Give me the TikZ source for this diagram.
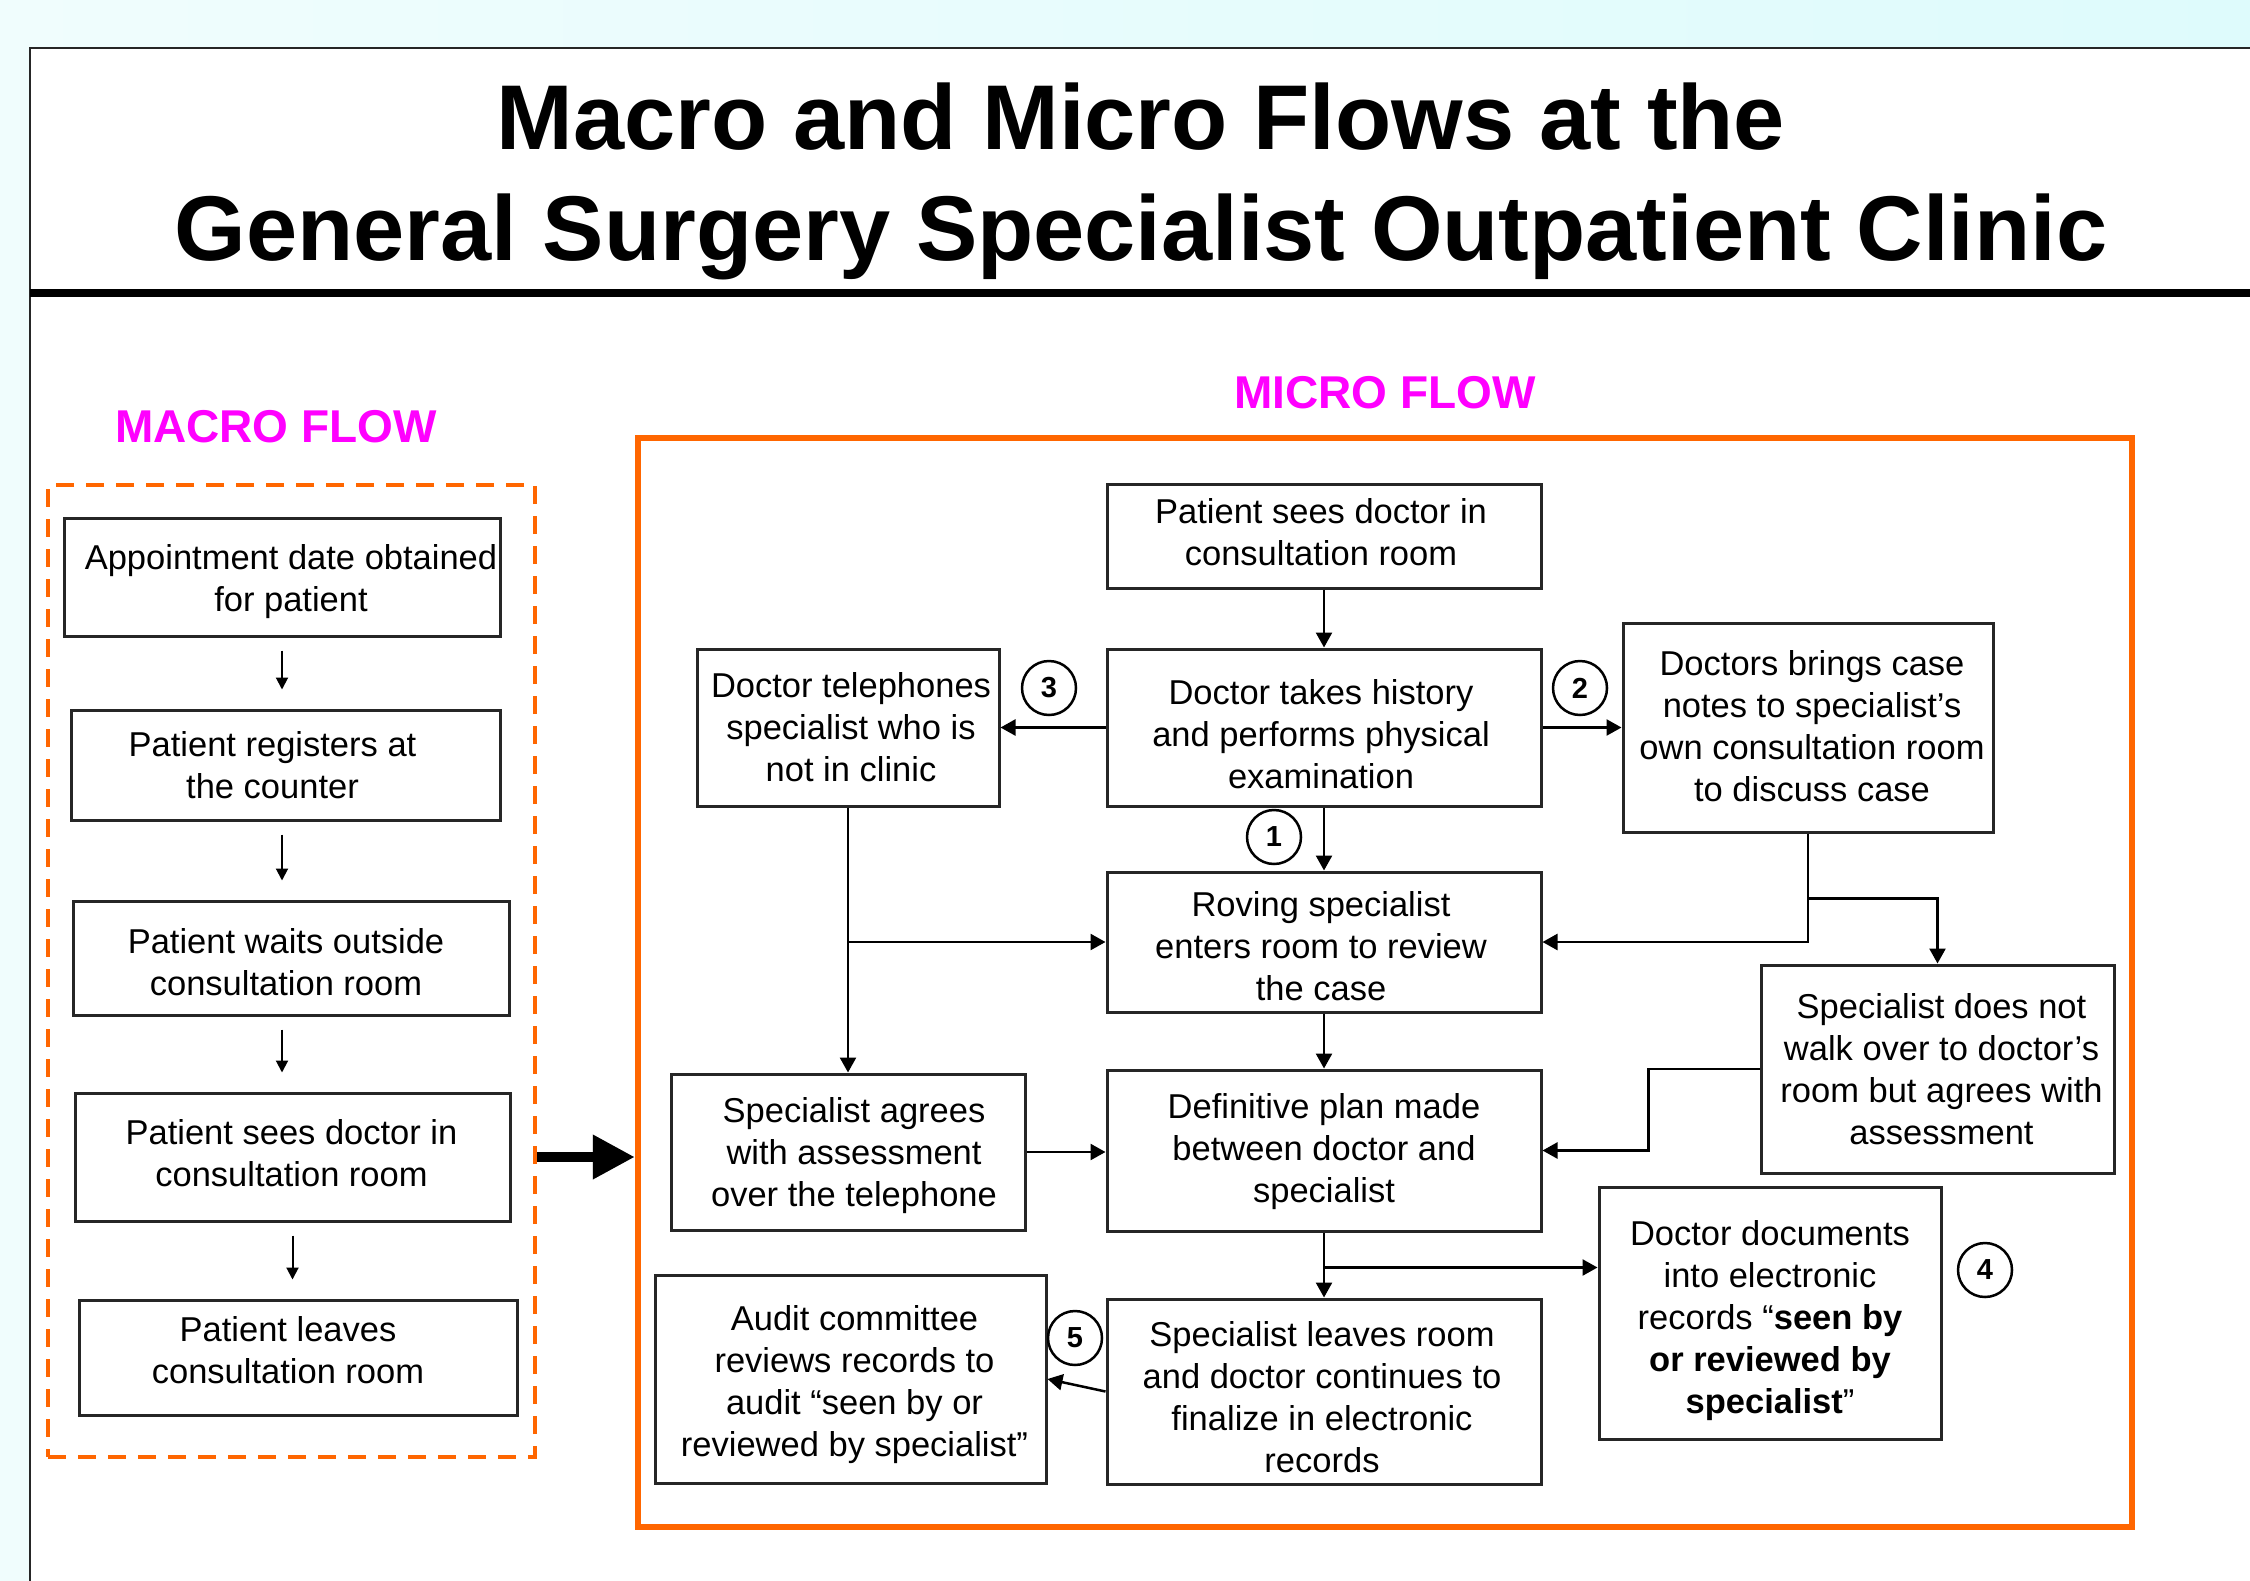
\documentclass[tikz,border=0pt]{standalone}
\usepackage{fontspec}
\setmainfont{Liberation Sans}
\usetikzlibrary{arrows.meta,calc}
\definecolor{orng}{RGB}{255,102,0}
\definecolor{mag}{RGB}{255,0,255}
\definecolor{bgl}{RGB}{240,253,253}
\definecolor{bgr}{RGB}{222,251,252}
\begin{document}
\begin{tikzpicture}[x=1pt,y=-1pt,
  box/.style={draw=black!85, line width=3pt, inner sep=0pt, fill=white},
  btext/.style={align=center, inner sep=0pt, font=\fontsize{34.5}{42}\selectfont},
  arr/.style={line width=2.5pt, -{Triangle[length=15pt,width=16pt]}},
  marr/.style={line width=2pt, -{Triangle[length=12pt,width=12pt]}, shorten <=13pt, shorten >=19pt},
  num/.style={circle, draw, line width=2.5pt, minimum size=54pt, inner sep=0pt,
    font=\bfseries\fontsize{29}{29}\selectfont},
  flowlbl/.style={anchor=base, text=mag, font=\bfseries\fontsize{46}{46}\selectfont},
  titlefont/.style={anchor=base, font=\bfseries\fontsize{92}{92}\selectfont},
]
\useasboundingbox (0,0) rectangle (2250,1581);
% background
\shade[left color=bgl, right color=bgr] (0,0) rectangle (2250,1581);
\fill[white] (30,48) rectangle (2250,1581);
\draw[line width=1.5pt, black!85] (30,1581) -- (30,48) -- (2250,48);
\draw[line width=8pt] (30,293) -- (2250,293);

% title
\node[titlefont] (t1) at (1141,150) {Macro and Micro Flows at the};
\node[titlefont] (t2) at (1141,260) {General Surgery Specialist Outpatient Clinic};

% flow labels
\node[flowlbl] (lmacro) at (276,442) {MACRO FLOW};
\node[flowlbl] (lmicro) at (1385,408) {MICRO FLOW};

% frames
\node[draw=orng, line width=4.5pt, dash pattern=on 18pt off 12pt, minimum width=487pt, minimum height=972pt, inner sep=0pt] (macro) at (291.5,971) {};
\node[draw=orng, line width=6.5pt, minimum width=1494pt, minimum height=1089pt, inner sep=0pt] (micro) at (1385,982.5) {};

% macro boxes
\node[box, minimum width=436pt, minimum height=118pt,
  label={[btext,shift={(9,5)}]center:{Appointment date obtained\\for patient}}] (m1) at (282,577) {};
\node[box, minimum width=429pt, minimum height=110pt,
  label={[btext,shift={(-13,0)}]center:{Patient registers at\\the counter}}] (m2) at (285.5,765) {};
\node[box, minimum width=436pt, minimum height=114pt,
  label={[btext,shift={(-5,4)}]center:{Patient waits outside\\consultation room}}] (m3) at (291,958) {};
\node[box, minimum width=435pt, minimum height=128pt,
  label={[btext,shift={(-1,-4)}]center:{Patient sees doctor in\\consultation room}}] (m4) at (292.5,1157) {};
\node[box, minimum width=438pt, minimum height=115pt,
  label={[btext,shift={(-10,-7)}]center:{Patient leaves\\consultation room}}] (m5) at (298,1357.5) {};

\draw[marr] (m1.south) -- (m1.south |- m2.north);
\draw[marr] (m2.south -| m1.south) -- (m3.north -| m1.south);
\draw[marr] (m3.south -| m1.south) -- (m4.north -| m1.south);
\draw[marr] (m4.south) -- (m4.south |- m5.north);

% big arrow
\begin{scope}[shift={(3,4)}, opacity=0.35]
\draw[gray, line width=10pt, -{Triangle[length=42pt,width=42pt]}] (macro.east |- m4) -- (micro.west |- m4);
\end{scope}
\draw[line width=10pt, -{Triangle[length=42pt,width=42pt]}] (macro.east |- m4) -- (micro.west |- m4);

% micro boxes
\node[box, minimum width=434pt, minimum height=104pt,
  label={[btext,shift={(-3,-4)}]center:{Patient sees doctor in\\consultation room}}] (p1) at (1324,536) {};
\node[box, minimum width=434pt, minimum height=157pt,
  label={[btext,shift={(-3,7)}]center:{Doctor takes history\\and performs physical\\examination}}] (p2) at (1324,727.5) {};
\node[box, minimum width=302pt, minimum height=157pt,
  label={[btext,shift={(3,0)}]center:{Doctor telephones\\specialist who is\\not in clinic}}] (p3) at (848,727.5) {};
\node[box, minimum width=434pt, minimum height=140pt,
  label={[btext,shift={(-3,4)}]center:{Roving specialist\\enters room to review\\the case}}] (p4) at (1324,942) {};
\node[box, minimum width=370pt, minimum height=209pt,
  label={[btext,shift={(4,-1)}]center:{Doctors brings case\\notes to specialist’s\\own consultation room\\to discuss case}}] (p5) at (1808,727.5) {};
\node[box, minimum width=353pt, minimum height=208pt,
  label={[btext,shift={(4,0)}]center:{Specialist does not\\walk over to doctor’s\\room but agrees with\\assessment}}] (p6) at (1937.5,1069) {};
\node[box, minimum width=354pt, minimum height=156pt,
  label={[btext,shift={(6,4)}]center:{Specialist agrees\\with assessment\\over the telephone}}] (p7) at (848,1152) {};
\node[box, minimum width=434pt, minimum height=161pt,
  label={[btext,shift={(0,1)}]center:{Definitive plan made\\between doctor and\\specialist}}] (p8) at (1324,1150.5) {};
\node[box, minimum width=391pt, minimum height=208pt,
  label={[btext,shift={(4,6)}]center:{Audit committee\\reviews records to\\audit “seen by or\\reviewed by specialist”}}] (p9) at (850.5,1379) {};
\node[box, minimum width=434pt, minimum height=185pt,
  label={[btext,shift={(-2,6)}]center:{Specialist leaves room\\and doctor continues to\\finalize in electronic\\records}}] (p10) at (1324,1391.5) {};
\node[box, minimum width=342pt, minimum height=252pt,
  label={[btext,shift={(0,8)}]center:{Doctor documents\\into electronic\\records “\textbf{seen by}\\\textbf{or reviewed by}\\\textbf{specialist}”}}] (p11) at (1770,1313) {};

% numbers
\node[num] (n1) at (1274,837) {1};
\node[num] (n2) at (1580,688) {2};
\node[num] (n3) at (1049,688) {3};
\node[num] (n4) at (1985,1270) {4};
\node[num] (n5) at (1075,1338) {5};

% connectors
\coordinate (j5) at ($(p5.south)+(0,65)$);
\coordinate (j6) at ($(p6.west)+(-111,0)$);
\coordinate (j8) at ($(p8.south)+(0,35)$);
\draw[arr] (p1) -- (p2);
\draw[arr] (p2.west) -- (p3.east);
\draw[arr] (p2.east) -- (p5.west);
\draw[arr] (p2) -- (p4);
\draw[arr] (p3) -- (p7);
\draw[arr] (p3.south |- p4.west) -- (p4.west);
\draw[arr] (p5.south) |- (p4.east);
\draw[arr] (j5) -| (p6.north);
\draw[arr] (p6.west) -- (j6) |- (p8.east);
\draw[arr] (p7.east) -- (p7.east -| p8.west);
\draw[arr] (p4) -- (p8);
\draw[arr] (p8) -- (p10);
\draw[arr] (j8) -- (j8 -| p11.west);
\draw[arr] (p10.west) -- (p9.east);
\end{tikzpicture}
\end{document}
